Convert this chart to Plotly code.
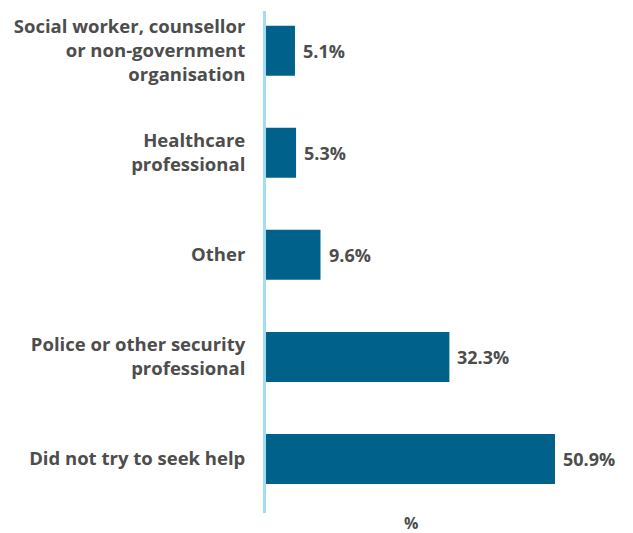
import plotly.graph_objects as go

categories = [
    "Social worker, counsellor<br>or non-government<br>organisation",
    "Healthcare<br>professional",
    "Other",
    "Police or other security<br>professional",
    "Did not try to seek help",
]
values = [5.1, 5.3, 9.6, 32.3, 50.9]
value_labels = ["5.1%", "5.3%", "9.6%", "32.3%", "50.9%"]
axis_title = "%"

BAR = "#00628B"
TXT = "#4D4D4D"
FONT = "Open Sans"

fig = go.Figure(
    go.Bar(
        x=values,
        y=categories,
        orientation="h",
        marker=dict(color=BAR, line=dict(width=0)),
        width=0.49,
        hoverinfo="skip",
    )
)

annotations = [
    dict(
        x=v,
        y=c,
        xref="x",
        yref="y",
        text=t,
        xanchor="left",
        xshift=6,
        showarrow=False,
        font=dict(family=FONT, size=18, color=TXT, weight="bold"),
    )
    for v, c, t in zip(values, categories, value_labels)
]
annotations.append(
    dict(
        text=axis_title,
        x=0.5,
        xref="paper",
        y=0,
        yref="paper",
        yanchor="middle",
        yshift=-10,
        showarrow=False,
        font=dict(family=FONT, size=16, color=TXT, weight="bold"),
    )
)

fig.update_layout(
    width=633,
    height=533,
    margin=dict(l=265.5, r=78, t=11, b=20),
    paper_bgcolor="white",
    plot_bgcolor="white",
    showlegend=False,
    font=dict(family=FONT, color=TXT),
    xaxis=dict(
        range=[0, 50.9],
        showgrid=False,
        zeroline=False,
        showticklabels=False,
        ticks="",
        showline=False,
        fixedrange=True,
    ),
    yaxis=dict(
        type="category",
        range=[4.53, -0.39],
        showgrid=False,
        zeroline=False,
        showline=True,
        linecolor="#A3DDF5",
        linewidth=3,
        ticks="",
        ticklabelstandoff=14,
        tickfont=dict(family=FONT, size=18.5, color=TXT, weight="bold"),
        fixedrange=True,
    ),
    annotations=annotations,
)

fig.write_html(
    "out.html",
    config={"displayModeBar": False, "staticPlot": True},
    post_script="document.body.style.margin='0';document.body.style.padding='0';",
)
